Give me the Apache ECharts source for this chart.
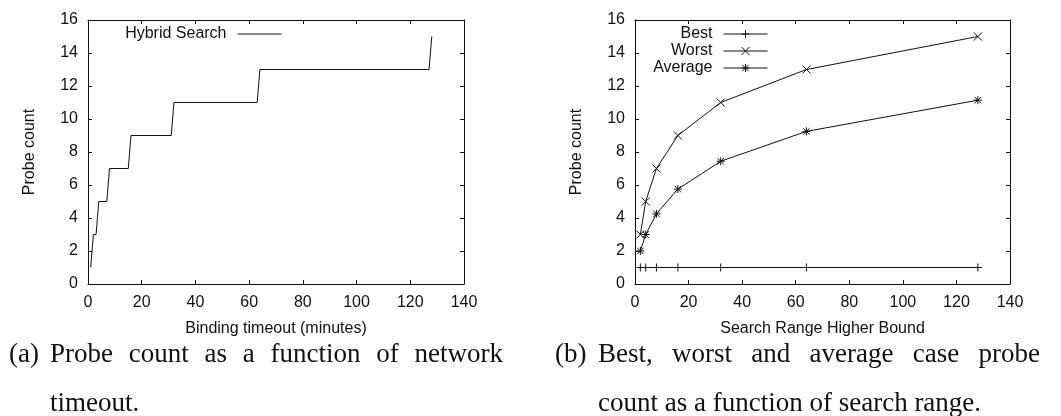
<!DOCTYPE html>
<html>
<head>
<meta charset="utf-8">
<script src="https://cdn.jsdelivr.net/npm/echarts@6/dist/echarts.min.js"></script>
<style>
  html, body { margin: 0; padding: 0; background: #fff; }
  #chart { width: 1061px; height: 416px; }
</style>
</head>
<body>
<div id="chart"></div>
<script>
// (a) probe count vs. binding timeout: corner points of the stepped curve
const timeoutMinutes = [1, 2, 3, 4, 7, 8, 15, 16, 31, 32, 63, 64, 127, 128];
const hybridProbes   = [1, 3, 3, 5, 5, 7, 7, 9, 9, 11, 11, 13, 13, 15];

// (b) probe count vs. search range higher bound
const rangeBound   = [2, 4, 8, 16, 32, 64, 128];
const bestProbes   = [1, 1, 1, 1, 1, 1, 1];
const worstProbes  = [3, 5, 7, 9, 11, 13, 15];
const avgProbes    = [2, 3, 4.25, 5.75, 7.44, 9.25, 11.14];

const xTicks = { min: 0, max: 140, interval: 20 };
const yTicks = { min: 0, max: 16, interval: 2 };

const captionA = { label: '(a)', line1: ['Probe', 'count', 'as', 'a', 'function', 'of', 'network'], line2: 'timeout.' };
const captionB = { label: '(b)', line1: ['Best,', 'worst', 'and', 'average', 'case', 'probe'], line2: 'count as a function of search range.' };

const SANS = '"Liberation Sans", Arial, sans-serif';
const SERIF = '"Liberation Serif", "Times New Roman", serif';
const INK = '#111';

const PLUS = 'path://M0,5L10,5M5,0L5,10';
const CROSS = 'path://M0,0L10,10M10,0L0,10';
const STAR = 'path://M0,5L10,5M5,0L5,10M1,1L9,9M9,1L1,9';

function pair(xs, ys) { return xs.map((x, i) => [x, ys[i]]); }

function xAxisFor(grid, pos, name) {
  return {
    type: 'value', gridIndex: grid, position: pos,
    min: xTicks.min, max: xTicks.max, interval: xTicks.interval,
    name: name || '', nameLocation: 'middle', nameGap: 37,
    nameTextStyle: { fontFamily: SANS, fontSize: 16, color: INK },
    axisLine: { show: true, onZero: false, lineStyle: { color: INK, width: 1 } },
    axisTick: { show: true, inside: true, length: 4, lineStyle: { color: INK } },
    axisLabel: { show: pos === 'bottom', margin: 11, fontFamily: SANS, fontSize: 16, color: INK },
    splitLine: { show: false }
  };
}
function yAxisFor(grid, pos, name) {
  return {
    type: 'value', gridIndex: grid, position: pos,
    min: yTicks.min, max: yTicks.max, interval: yTicks.interval,
    name: name || '', nameLocation: 'middle', nameGap: 50, nameRotate: 90,
    nameTextStyle: { fontFamily: SANS, fontSize: 16, color: INK },
    axisLine: { show: true, onZero: false, lineStyle: { color: INK, width: 1 } },
    axisTick: { show: true, inside: true, length: 4, lineStyle: { color: INK } },
    axisLabel: { show: pos === 'left', margin: 10, fontFamily: SANS, fontSize: 16, color: INK },
    splitLine: { show: false }
  };
}

function legendFor(name, right, top, plainLine) {
  const lg = {
    data: [name], orient: 'vertical', align: 'right',
    right: right, top: top, padding: 0,
    itemWidth: 44, itemHeight: 10,
    lineStyle: { width: 1, color: INK },
    itemStyle: { color: INK, borderColor: INK, borderWidth: 1 },
    textStyle: { fontFamily: SANS, fontSize: 16, color: INK, padding: [0, 6, 0, 0] },
    selectedMode: false
  };
  if (plainLine) {
    // line-only key: hide the default marker
    lg.itemStyle = { color: 'transparent', borderColor: 'transparent', borderWidth: 0 };
  }
  return lg;
}

function lineSeries(name, xAxisIndex, yAxisIndex, data, symbol) {
  return {
    name: name, type: 'line', xAxisIndex: xAxisIndex, yAxisIndex: yAxisIndex,
    data: data,
    symbol: symbol || 'none', symbolSize: 8, showAllSymbol: true,
    lineStyle: { color: INK, width: 1 },
    itemStyle: { color: INK, borderColor: INK, borderWidth: 1 },
    emphasis: { disabled: true },
    z: 3
  };
}

// justified first caption line + hanging second line
const measureCtx = document.createElement('canvas').getContext('2d');
const CAP_SIZE = 27;
measureCtx.font = CAP_SIZE + 'px ' + SERIF;
function captionTexts(cap, labelX, startX, endX, y1, y2) {
  const out = [];
  const style = (t, x, y) => ({
    type: 'text', x: x, y: y,
    style: { text: t, fontFamily: SERIF, fontSize: CAP_SIZE, fill: INK, verticalAlign: 'middle' }
  });
  out.push(style(cap.label, labelX, y1));
  const widths = cap.line1.map(w => measureCtx.measureText(w).width);
  const total = widths.reduce((a, b) => a + b, 0);
  const gap = (endX - startX - total) / (cap.line1.length - 1);
  let x = startX;
  cap.line1.forEach((w, i) => { out.push(style(w, x, y1)); x += widths[i] + gap; });
  out.push(style(cap.line2, startX, y2));
  return out;
}

const chart = echarts.init(document.getElementById('chart'), null, { renderer: 'canvas' });
chart.setOption({
  animation: false,
  backgroundColor: '#fff',
  grid: [
    { left: 88, right: 597, top: 20, bottom: 132 },
    { left: 635, right: 51, top: 20, bottom: 132 }
  ],
  xAxis: [
    xAxisFor(0, 'bottom', 'Binding timeout (minutes)'),
    xAxisFor(0, 'top'),
    xAxisFor(1, 'bottom', 'Search Range Higher Bound'),
    xAxisFor(1, 'top')
  ],
  yAxis: [
    yAxisFor(0, 'left', 'Probe count'),
    yAxisFor(0, 'right'),
    yAxisFor(1, 'left', 'Probe count'),
    yAxisFor(1, 'right')
  ],
  legend: [
    legendFor('Hybrid Search', 1061 - 282, 26, true),
    legendFor('Best', 1061 - 768, 26),
    legendFor('Worst', 1061 - 768, 43),
    legendFor('Average', 1061 - 768, 60)
  ],
  series: [
    lineSeries('Hybrid Search', 0, 0, pair(timeoutMinutes, hybridProbes)),
    lineSeries('Best', 2, 2, pair(rangeBound, bestProbes), PLUS),
    lineSeries('Worst', 2, 2, pair(rangeBound, worstProbes), CROSS),
    lineSeries('Average', 2, 2, pair(rangeBound, avgProbes), STAR)
  ],
  graphic: [].concat(
    captionTexts(captionA, 9, 50, 503, 355, 404),
    captionTexts(captionB, 555, 598, 1040, 355, 404)
  )
});
</script>
</body>
</html>
